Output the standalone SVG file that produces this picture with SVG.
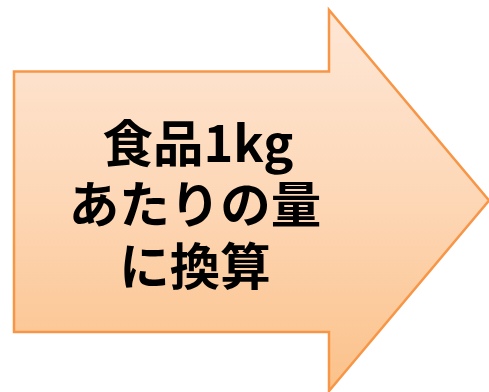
<svg xmlns="http://www.w3.org/2000/svg" width="489" height="392" viewBox="0 0 489 392">
  <defs>
    <linearGradient id="g" x1="0" y1="10" x2="0" y2="391" gradientUnits="userSpaceOnUse">
      <stop offset="0" stop-color="#FEE7D6"/>
      <stop offset="0.5" stop-color="#FDD7B6"/>
      <stop offset="1" stop-color="#FBC189"/>
    </linearGradient>
    <style>
      .arrow { fill: url(#g); stroke: #F79646; stroke-width: 2.5; stroke-linejoin: miter; }
      .lbl { font-family: "Noto Sans CJK JP", "Noto Sans", sans-serif; font-weight: bold; font-size: 50.5px; fill: #000; text-anchor: middle; }
    </style>
  </defs>
  <g id="arrow-node">
    <path class="arrow" d="M14,71.5 L329,71.5 L329,10 L489,200.5 L329,391 L329,332 L14,332 Z"/>
    <text class="lbl" x="198" y="162">食品1kg</text>
    <text class="lbl" x="195" y="223">あたりの量</text>
    <text class="lbl" x="195" y="285">に換算</text>
  </g>
  <g id="connectors"/>
</svg>
